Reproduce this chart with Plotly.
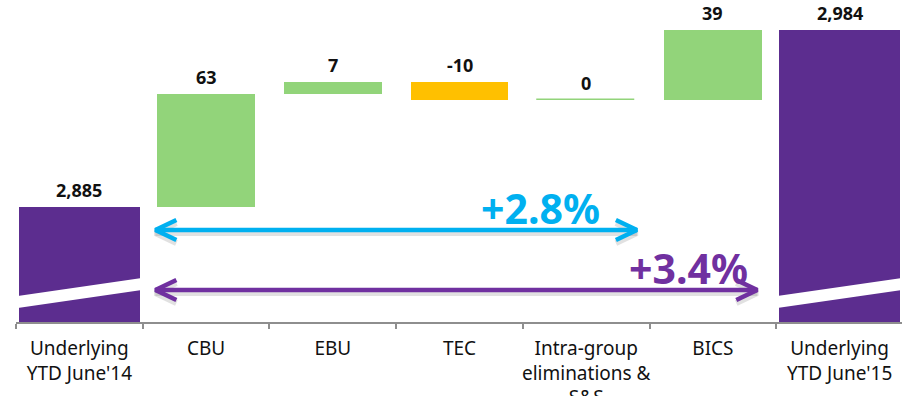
import plotly.graph_objects as go

# ---- data ----
categories = ["Underlying<br>YTD June'14", "CBU", "EBU", "TEC",
              "Intra-group<br>eliminations &<br>S&S", "BICS", "Underlying<br>YTD June'15"]
start_total = 2885
deltas = [63, 7, -10, 0, 39]
end_total = 2984
value_labels = ["2,885", "63", "7", "-10", "0", "39", "2,984"]
growth_labels = ["+2.8%", "+3.4%"]

# ---- layout constants ----
W, H = 902, 396
ML, MR, MT, MB = 16, 0, 0, 74
plot_h = H - MT - MB
slot = (903 - 16) / 7.0
k = 1.7879                      # px per unit
Y_MIN = 2885 - (322 - 207) / k  # broken axis bottom
Y_MAX = Y_MIN + plot_h / k
X_MIN = -0.5
X_MAX = -0.5 + (W - ML - MR) / slot

PURPLE = "#5C2D8F"
GREEN = "#92D47A"
ORANGE = "#FFC000"
CYAN = "#00B0F0"
ARROW_PURPLE = "#7030A0"
TOTAL_W = 0.955
STEP_W = 0.77

def py2y(py):
    return Y_MIN + (plot_h - py) / k

# ---- build bars ----
xs = list(range(len(categories)))
bases, heights, colors, widths = [], [], [], []
bases.append(Y_MIN); heights.append(start_total - Y_MIN); colors.append(PURPLE); widths.append(TOTAL_W)
running = start_total
for d in deltas:
    bases.append(running); heights.append(d)
    colors.append(GREEN if d >= 0 else ORANGE); widths.append(STEP_W)
    running += d
bases.append(Y_MIN); heights.append(end_total - Y_MIN); colors.append(PURPLE); widths.append(TOTAL_W)

fig = go.Figure()
fig.add_trace(go.Bar(
    x=xs, y=heights, base=bases, width=widths,
    marker=dict(color=colors, line=dict(color=colors, width=[0, 0, 0, 0, 1.5, 0, 0])),
    hoverinfo="skip", showlegend=False))

# value labels
annotations = []
for i, lab in enumerate(value_labels):
    top = max(bases[i], bases[i] + heights[i])
    annotations.append(dict(x=xs[i], y=top, text="<b>" + lab + "</b>", showarrow=False,
                            yanchor="bottom", yshift=3, xref="x", yref="y",
                            font=dict(family="Noto Sans", size=18, color="#111111")))

shapes = []
# broken-axis white bands on the total bars
for i in (0, 6):
    x0 = xs[i] - 0.52
    x1 = xs[i] + 0.52
    yl_top, yl_bot = py2y(296.5), py2y(308.5)
    yr_top, yr_bot = py2y(277.5), py2y(289.5)
    shapes.append(dict(type="path", xref="x", yref="y", line=dict(width=0), fillcolor="white",
                       path=f"M{x0},{yl_top} L{x1},{yr_top} L{x1},{yr_bot} L{x0},{yl_bot} Z",
                       layer="above"))

# double-headed arrows
arrow_spans = [(0.6, 4.4, py2y(230), CYAN), (0.6, 5.35, py2y(290), ARROW_PURPLE)]
arm_dx = 21 / slot
arm_dy = 10 / k
shadow_dy = 3 / k
for (a, b, yv, col) in arrow_spans:
    for dy, c, w in ((-shadow_dy, "rgba(120,120,120,0.22)", 6), (0, col, 4.5)):
        y = yv + dy
        fig.add_trace(go.Scatter(
            x=[a + arm_dx, a, a + arm_dx, None, a, b, None, b - arm_dx, b, b - arm_dx],
            y=[y + arm_dy, y, y - arm_dy, None, y, y, None, y + arm_dy, y, y - arm_dy],
            mode="lines", line=dict(color=c, width=w), hoverinfo="skip", showlegend=False))

annotations.append(dict(x=3.636, y=py2y(208), text="<b>" + growth_labels[0] + "</b>",
                        showarrow=False, xref="x", yref="y",
                        font=dict(family="Noto Sans", size=41, color=CYAN)))
annotations.append(dict(x=4.804, y=py2y(268), text="<b>" + growth_labels[1] + "</b>",
                        showarrow=False, xref="x", yref="y",
                        font=dict(family="Noto Sans", size=41, color=ARROW_PURPLE)))

fig.update_layout(
    width=W, height=H, margin=dict(l=ML, r=MR, t=MT, b=MB, autoexpand=False),
    paper_bgcolor="white", plot_bgcolor="white",
    shapes=shapes, annotations=annotations, bargap=0,
    xaxis=dict(range=[X_MIN, X_MAX], tickvals=xs, ticktext=categories, automargin=False,
               showgrid=False, zeroline=False, showline=True, linecolor="#8E8E8E", linewidth=2,
               ticks="", ticklabelstandoff=8,
               tickfont=dict(family="Noto Sans", size=19, color="#111111"),
               minor=dict(tickvals=[i - 0.5 for i in range(8)], ticks="outside",
                          ticklen=5, tickcolor="#8E8E8E", tickwidth=2),
               fixedrange=True),
    yaxis=dict(range=[Y_MIN, Y_MAX], visible=False, fixedrange=True, automargin=False),
)

fig.write_html("out.html")
